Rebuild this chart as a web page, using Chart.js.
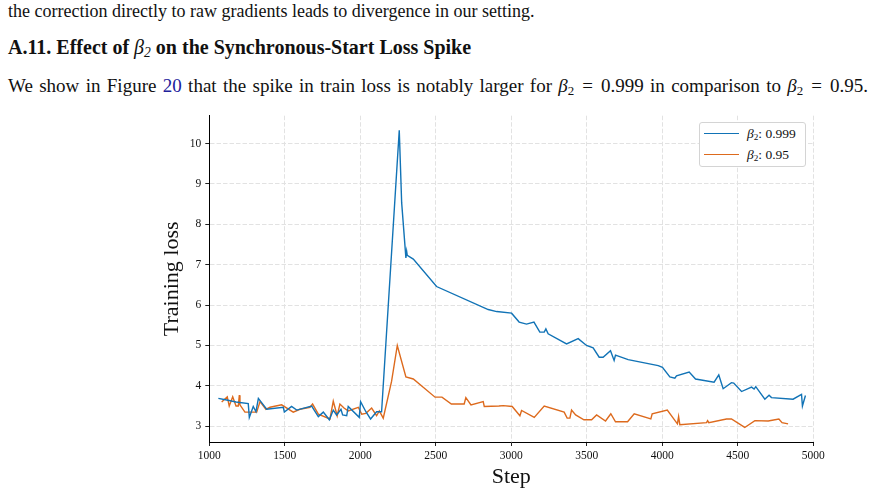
<!DOCTYPE html>
<html>
<head>
<meta charset="utf-8">
<script src="https://cdn.jsdelivr.net/npm/chart.js@4.4.1/dist/chart.umd.min.js"></script>
<style>
  body { margin: 0; background: #fff; width: 887px; height: 495px; position: relative; overflow: hidden; font-family: "Liberation Serif", "Times New Roman", serif; color: #111; }
  .txt { position: absolute; left: 8px; white-space: nowrap; }
  #l1 { top: 1px; font-size: 18px; line-height: 20px; }
  #l2 { top: 36px; font-size: 20px; line-height: 23px; font-weight: bold; }
  #l3 { top: 75px; font-size: 19px; line-height: 21px; word-spacing: 1.6px; }
  .m { font-style: italic; font-weight: normal; }
  .eq { margin: 0 0.42em; }
  sub { font-size: 0.68em; vertical-align: -0.22em; line-height: 0; }
  .ref { color: #21219b; }
  #wrap { position: absolute; left: 0; top: 100px; width: 887px; height: 395px; }
  #legend { position: absolute; left: 699px; top: 122px; width: 105px; height: 43px; border: 1px solid #d4d4d4; border-radius: 3px; background: #fff; font-size: 13.5px; }
  .row { position: absolute; left: 4px; height: 16px; line-height: 16px; }
  .swatch { position: absolute; left: 0; top: 7px; width: 35px; height: 0; border-top: 1.5px solid; }
  .lab { position: absolute; left: 43px; top: 0; white-space: nowrap; }
</style>
</head>
<body>
<div class="txt" id="l1">the correction directly to raw gradients leads to divergence in our setting.</div>
<div class="txt" id="l2">A.11. Effect of <span class="m">β</span><sub class="m">2</sub> on the Synchronous-Start Loss Spike</div>
<div class="txt" id="l3">We show in Figure <span class="ref">20</span> that the spike in train loss is notably larger for <span class="m">β</span><sub>2</sub><span class="eq">=</span>0.999 in comparison to <span class="m">β</span><sub>2</sub><span class="eq">=</span>0.95.</div>
<div id="wrap"><canvas id="c" width="887" height="395"></canvas></div>
<div id="legend"></div>
<script>
// data
const seriesNames = ['0.999', '0.95'];
const seriesColors = ['#1173b6', '#dd6a1d'];

const blueSteps = [1060, 1115, 1177, 1258, 1265, 1291, 1309, 1325, 1358, 1380, 1490, 1497, 1545, 1579, 1678, 1722, 1755, 1795, 1821, 1843, 1872, 1883, 1910, 1920, 1993, 2002, 2037, 2068, 2108, 2141,
  2258, 2274, 2302, 2307, 2311, 2351, 2505, 2847, 2903, 3002, 3052, 3101, 3150, 3189, 3218, 3229, 3244, 3366, 3443, 3498, 3542, 3582, 3608, 3657, 3681, 3690, 3774, 3973,
  4001, 4050, 4083, 4094, 4178, 4220, 4343, 4374, 4403, 4458, 4473, 4525, 4591, 4608, 4619, 4679, 4707, 4723, 4866, 4922, 4928, 4948];
const blueLoss = [3.69, 3.65, 3.60, 3.56, 3.22, 3.49, 3.36, 3.69, 3.53, 3.42, 3.47, 3.35, 3.49, 3.40, 3.50, 3.24, 3.35, 3.16, 3.40, 3.28, 3.42, 3.28, 3.26, 3.49, 3.22, 3.61, 3.36, 3.18, 3.36, 3.36,
  10.33, 8.53, 7.17, 7.33, 7.23, 7.14, 6.46, 5.89, 5.84, 5.80, 5.58, 5.53, 5.58, 5.33, 5.33, 5.41, 5.29, 5.04, 5.17, 5.00, 4.94, 4.71, 4.71, 4.87, 4.63, 4.76, 4.65, 4.50,
  4.46, 4.22, 4.19, 4.25, 4.34, 4.17, 4.09, 4.27, 3.93, 4.08, 4.07, 3.86, 3.97, 3.92, 3.98, 3.67, 3.77, 3.71, 3.67, 3.79, 3.50, 3.76];

const orangeSteps = [1082, 1119, 1132, 1155, 1177, 1192, 1199, 1203, 1236, 1314, 1336, 1375, 1402, 1479, 1556, 1600, 1667, 1684, 1722, 1799, 1821, 1847, 1865, 1892, 1920, 1987, 2009, 2037, 2075, 2108, 2126, 2152,
  2207, 2245, 2302, 2351, 2495, 2541, 2603, 2688, 2699, 2733, 2814, 2821, 2918, 2947, 3006, 3057, 3068, 3152, 3218, 3350, 3370, 3388, 3399, 3426, 3481, 3532, 3565, 3624, 3659, 3690, 3770, 3814, 3924, 3933,
  4033, 4100, 4108, 4116, 4293, 4300, 4308, 4425, 4458, 4546, 4613, 4701, 4772, 4793, 4833];
const orangeLoss = [3.60, 3.73, 3.50, 3.73, 3.50, 3.50, 3.77, 3.53, 3.35, 3.35, 3.61, 3.42, 3.47, 3.53, 3.35, 3.42, 3.47, 3.55, 3.30, 3.18, 3.62, 3.26, 3.55, 3.45, 3.38, 3.47, 3.30, 3.32, 3.45, 3.26, 3.38, 3.20,
  4.11, 5.00, 4.22, 4.17, 3.72, 3.72, 3.55, 3.55, 3.71, 3.53, 3.61, 3.49, 3.50, 3.51, 3.49, 3.26, 3.39, 3.22, 3.50, 3.35, 3.20, 3.20, 3.40, 3.28, 3.16, 3.16, 3.28, 3.13, 3.31, 3.11, 3.11, 3.31, 3.18, 3.31,
  3.40, 3.06, 3.24, 3.04, 3.09, 3.14, 3.09, 3.18, 3.18, 2.97, 3.14, 3.13, 3.18, 3.09, 3.06];

const xTicks = [1000, 1500, 2000, 2500, 3000, 3500, 4000, 4500, 5000];
const yTicks = [3, 4, 5, 6, 7, 8, 9, 10];

const toPoints = (xs, ys) => xs.map((x, i) => ({ x: x, y: ys[i] }));

const serif = '"Liberation Serif", "Times New Roman", serif';
const gridOpts = {
  color: '#e2e2e2',
  lineWidth: 1,
  tickColor: '#222',
  tickLength: 4,
  tickBorderDash: []
};
// in v4 the dash of the grid lines lives under border
const borderOpts = { color: '#000', width: 1, dash: [4.5, 2] };

new Chart(document.getElementById('c'), {
  type: 'line',
  data: {
    datasets: [
      { label: seriesNames[0], data: toPoints(blueSteps, blueLoss), borderColor: seriesColors[0], borderWidth: 1.4, pointRadius: 0, tension: 0 },
      { label: seriesNames[1], data: toPoints(orangeSteps, orangeLoss), borderColor: seriesColors[1], borderWidth: 1.4, pointRadius: 0, tension: 0 }
    ]
  },
  options: {
    responsive: false,
    animation: false,
    devicePixelRatio: 1,
    layout: { padding: { left: 159, right: 73.7, top: 15.7, bottom: 0 } },
    plugins: { legend: { display: false }, tooltip: { enabled: false } },
    scales: {
      x: {
        type: 'linear',
        min: 1000,
        max: 5000,
        afterBuildTicks: s => { s.ticks = xTicks.map(v => ({ value: v })); },
        afterFit: s => { s.height = 53; },
        grid: gridOpts,
        border: borderOpts,
        ticks: { color: '#111', padding: 3, maxRotation: 0, font: { family: serif, size: 11.5 }, callback: v => String(v) },
        title: { display: true, text: 'Step', color: '#111', font: { family: serif, size: 22 }, padding: { top: 0, bottom: 4.8 } }
      },
      y: {
        min: 2.61,
        max: 10.69,
        afterBuildTicks: s => { s.ticks = yTicks.map(v => ({ value: v })); },
        afterFit: s => { s.width = 50.3; },
        grid: gridOpts,
        border: borderOpts,
        ticks: { color: '#111', padding: 4, font: { family: serif, size: 11.5 }, callback: v => String(v) },
        title: { display: true, text: 'Training loss', color: '#111', font: { family: serif, size: 22 }, padding: { top: 0, bottom: 0 } }
      }
    }
  }
});

// legend with the math subscript, built from the series arrays
const legend = document.getElementById('legend');
seriesNames.forEach((name, i) => {
  const row = document.createElement('div');
  row.className = 'row';
  row.style.top = (3 + i * 20.5) + 'px';
  row.innerHTML = '<div class="swatch" style="border-color:' + seriesColors[i] + '"></div>' +
    '<div class="lab"><span class="m">β</span><sub>2</sub>: ' + name + '</div>';
  legend.appendChild(row);
});
</script>
</body>
</html>
